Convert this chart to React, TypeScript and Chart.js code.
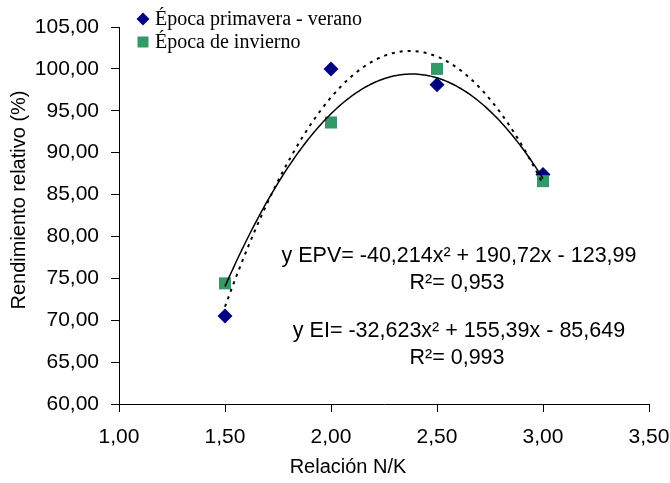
import React, { useEffect, useRef } from 'react';
import { Chart, registerables } from 'chart.js';

Chart.register(...registerables);

// ---- data ----
const xValues = [1.5, 2.0, 2.5, 3.0];
const epvValues = [70.5, 100.0, 98.1, 87.4];
const eiValues = [74.4, 93.6, 100.0, 86.6];
// trendline coefficients as printed on the chart (a, b, c for ax² + bx + c)
const epvCoef = [-40.214, 190.72, -123.99];
const eiCoef = [-32.623, 155.39, -85.649];
const seriesLabels = ['Época primavera - verano', 'Época de invierno'];
const trendLabels = ['Tendencia EPV', 'Tendencia EI'];
const equationLines = [
  'y EPV= -40,214x² + 190,72x - 123,99',
  'R²= 0,953',
  'y EI= -32,623x² + 155,39x - 85,649',
  'R²= 0,993',
];
const xAxisTitle = 'Relación N/K';
const yAxisTitle = 'Rendimiento relativo (%)';
const xMin = 1.0, xMax = 3.5, xStep = 0.5;
const yMin = 60, yMax = 105, yStep = 5;

const NAVY = '#000080';
const GREEN = '#339966';

function trendPoints(coef: number[]) {
  const pts: { x: number; y: number }[] = [];
  const from = xValues[0];
  const to = xValues[xValues.length - 1];
  const n = 150;
  for (let i = 0; i <= n; i++) {
    const x = from + ((to - from) * i) / n;
    pts.push({ x, y: coef[0] * x * x + coef[1] * x + coef[2] });
  }
  return pts;
}

const fmt = (v: number) => v.toFixed(2).replace('.', ',');

const textPlugin = {
  id: 'textPlugin',
  afterDraw(chart: any) {
    const ctx = chart.ctx as CanvasRenderingContext2D;
    ctx.save();
    ctx.fillStyle = '#000';
    // legend
    const legendItems = [
      { ds: chart.data.datasets[3], y: 19 },
      { ds: chart.data.datasets[2], y: 42 },
    ];
    legendItems.forEach(({ ds, y }) => {
      const mx = 143;
      ctx.fillStyle = ds.backgroundColor;
      ctx.beginPath();
      if (ds.pointStyle === 'rectRot') {
        const r = 6.5;
        ctx.moveTo(mx, y - r);
        ctx.lineTo(mx + r, y);
        ctx.lineTo(mx, y + r);
        ctx.lineTo(mx - r, y);
        ctx.closePath();
      } else {
        ctx.rect(mx - 5.5, y - 5.5, 11, 11);
      }
      ctx.fill();
      ctx.fillStyle = '#000';
      ctx.font = '20px "Liberation Serif", "Times New Roman", serif';
      ctx.textBaseline = 'middle';
      ctx.textAlign = 'left';
      ctx.fillText(ds.label, 155, y + 1);
    });
    // equations
    ctx.font = '21.5px "Liberation Sans", Arial, sans-serif';
    ctx.textAlign = 'center';
    ctx.textBaseline = 'middle';
    const eqX = [459, 457, 459, 457];
    const eqY = [256, 283, 331, 358];
    equationLines.forEach((t, i) => ctx.fillText(t, eqX[i], eqY[i]));
    // axis titles
    ctx.font = '20px "Liberation Sans", Arial, sans-serif';
    ctx.fillText(xAxisTitle, 348, 467);
    ctx.translate(19, 200);
    ctx.rotate(-Math.PI / 2);
    ctx.fillText(yAxisTitle, 0, 0);
    ctx.restore();
  },
};

export default function App() {
  const ref = useRef<HTMLCanvasElement | null>(null);
  useEffect(() => {
    document.body.style.margin = '0';
    if (!ref.current) return;
    const chart = new Chart(ref.current, {
      type: 'scatter',
      data: {
        datasets: [
          {
            label: trendLabels[0],
            data: trendPoints(epvCoef),
            showLine: true,
            borderColor: '#000',
            borderWidth: 2,
            borderDash: [3, 5],
            pointRadius: 0,
            fill: false,
          },
          {
            label: trendLabels[1],
            data: trendPoints(eiCoef),
            showLine: true,
            borderColor: '#000',
            borderWidth: 1.5,
            pointRadius: 0,
            fill: false,
          },
          {
            label: seriesLabels[1],
            data: xValues.map((x, i) => ({ x, y: eiValues[i] })),
            pointStyle: 'rect',
            pointRadius: 8.5,
            backgroundColor: GREEN,
            borderColor: GREEN,
            borderWidth: 0,
          },
          {
            label: seriesLabels[0],
            data: xValues.map((x, i) => ({ x, y: epvValues[i] })),
            pointStyle: 'rectRot',
            pointRadius: 7.5,
            backgroundColor: NAVY,
            borderColor: NAVY,
            borderWidth: 0,
          },
        ],
      },
      options: {
        animation: false,
        responsive: true,
        maintainAspectRatio: false,
        layout: { padding: { top: 27, right: 21, left: 0, bottom: 0 }, autoPadding: false },
        plugins: { legend: { display: false }, tooltip: { enabled: false } },
        scales: {
          x: {
            type: 'linear',
            min: xMin,
            max: xMax,
            ticks: {
              stepSize: xStep,
              color: '#000',
              font: { family: '"Liberation Sans", Arial, sans-serif', size: 21 },
              padding: 13,
              callback: (v: any) => fmt(Number(v)),
              maxRotation: 0,
            },
            grid: { drawOnChartArea: false, drawTicks: true, tickLength: 8, color: '#000' },
            border: { color: '#000', width: 1 },
            afterFit: (s: any) => {
              s.height = 79;
              s.paddingLeft = 0;
              s.paddingRight = 0;
            },
          },
          y: {
            type: 'linear',
            min: yMin,
            max: yMax,
            ticks: {
              stepSize: yStep,
              color: '#000',
              font: { family: '"Liberation Sans", Arial, sans-serif', size: 21 },
              padding: 12,
              callback: (v: any) => fmt(Number(v)),
            },
            grid: { drawOnChartArea: false, drawTicks: true, tickLength: 8, color: '#000' },
            border: { color: '#000', width: 1 },
            afterFit: (s: any) => {
              s.width = 119;
              s.paddingTop = 0;
              s.paddingBottom = 0;
            },
          },
        },
      },
      plugins: [textPlugin],
    });
    return () => chart.destroy();
  }, []);
  return (
    <div style={{ position: 'relative', width: 670, height: 483 }}>
      <canvas ref={ref} />
    </div>
  );
}
